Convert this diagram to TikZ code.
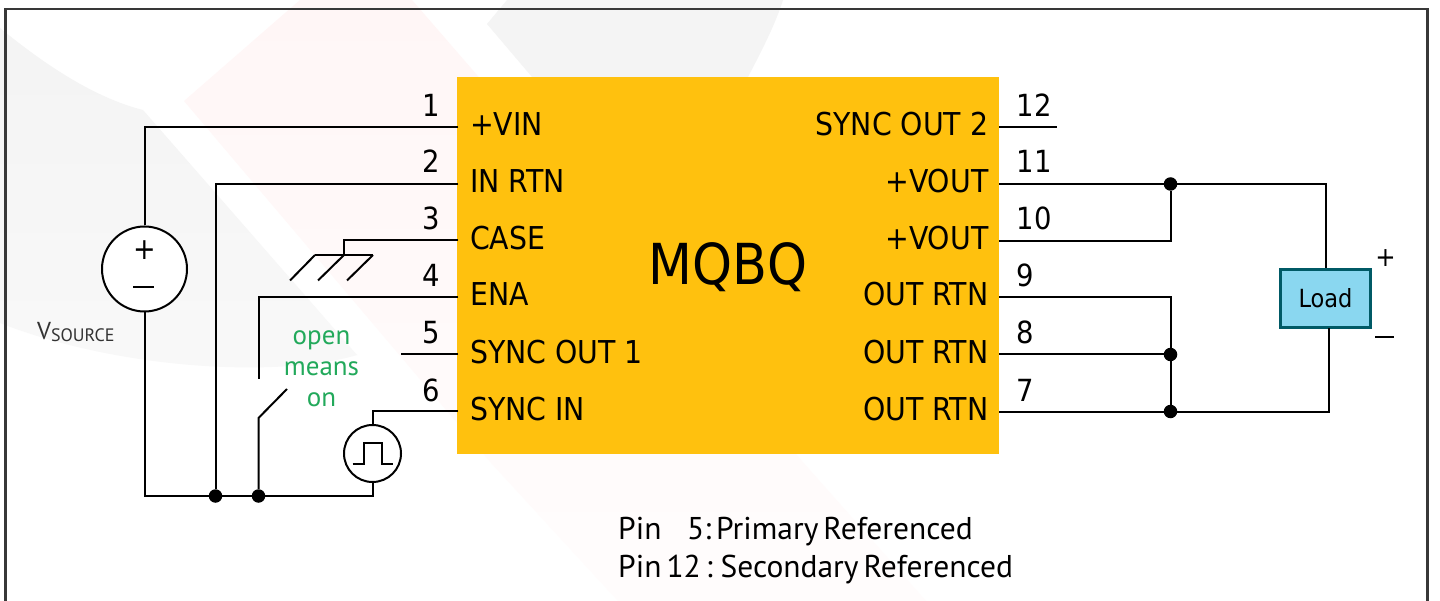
\documentclass[tikz,border=0pt]{standalone}
\usepackage{fontspec}
\setmainfont{DejaVu Sans Condensed}
\newfontfamily\notefont{PT Sans}
\newcommand{\tightwords}{\spaceskip=0.16em\relax}
\definecolor{chipcol}{HTML}{FFC10E}
\definecolor{loadfill}{HTML}{8AD7F0}
\definecolor{loaddraw}{HTML}{005A66}
\definecolor{greentext}{HTML}{22A95B}
\begin{document}
\begin{tikzpicture}[x=1pt,y=-1pt,
  wire/.style={line width=2pt,black,line cap=butt,line join=miter},
  dot/.style={circle,fill=black,inner sep=0pt,minimum size=13.5pt},
  source/.style={circle,draw=black,line width=2pt,fill=white,inner sep=0pt},
  pinno/.style={font=\fontsize{30.5}{32}\selectfont,anchor=base,inner sep=0pt},
  pinname/.style={font=\fontsize{31.5}{32}\selectfont,inner sep=0pt},
  note/.style={font=\notefont\fontsize{31.5}{32}\selectfont,inner sep=0pt,anchor=base west,text=black}]
\useasboundingbox (0,0) rectangle (1440,601);
\fill[white] (0,0) rectangle (1440,601);
% faint background
\shade[top color=black!4.5,bottom color=black!2.5] (0,28) .. controls (45,65) and (95,98) .. (143,110) -- (303,293) -- (357,355) .. controls (280,378) and (120,370) .. (0,323) -- cycle;
\shade[top color=red!3.5,bottom color=red!1] (184,101) -- (300,0) -- (412,0) -- (477,75) -- (802,461) -- (926,601) -- (618,601) -- (491,463) -- cycle;
\fill[black!4.5] (507,0) -- (487,24) -- (532,77) -- (748,77) .. controls (762,50) and (775,25) .. (783,0) -- cycle;
% frame
\draw[line width=2.4pt,black!78] (5.5,601) -- (5.5,9) -- (1427.5,9) -- (1427.5,601);
% chip
\node[fill=chipcol,minimum width=542pt,minimum height=377pt,inner sep=0pt] (chip) at (728,265.5) {};
\node[font=\fontsize{56.5}{58}\selectfont,inner sep=0pt] (title) at (728,267) {MQBQ};
% pins
\foreach \n/\y/\t in {p1/127/+VIN,p2/184/IN RTN,p3/240.5/CASE,p4/297/ENA,p5/354/SYNC OUT 1,p6/411/SYNC IN}
  \node[pinname,anchor=base west] (\n) at (470,\y+9) {\t};
\foreach \n/\y/\t in {q12/127/SYNC OUT 2,q11/184/+VOUT,q10/240.5/+VOUT,q9/297/OUT RTN,q8/354/OUT RTN,q7/411/OUT RTN}
  \node[pinname,anchor=base east] (\n) at (988.5,\y+9) {\t};
\foreach \t/\y in {1/117,2/173,3/230,4/287,5/344,6/401}
  \node[pinno] (n\t) at (431.5,\y) {\t};
\foreach \t/\x/\y in {12/1034/117,11/1034/173,10/1034/230,9/1025/287,8/1025/344,7/1025/401}
  \node[pinno] (n\t) at (\x,\y) {\t};
% coordinates
\coordinate (L1) at (458,127);\coordinate (L2) at (458,184);\coordinate (L3) at (458,240.5);
\coordinate (L4) at (458,297);\coordinate (L5) at (458,354);\coordinate (L6) at (458,411);
\coordinate (R12) at (999,127.5);\coordinate (R11) at (999,184);\coordinate (R10) at (999,241);
\coordinate (R9) at (999,297.5);\coordinate (R8) at (999,354.5);\coordinate (R7) at (999,411.5);
% sources
\node[source,minimum size=85pt] (vs) at (144.5,269) {};
\node[font=\fontsize{30}{30}\selectfont,inner sep=0pt] (vsplus) at (144.5,250) {+};
\draw[wire] (133,287) -- (154,287);
\node[source,minimum size=57pt] (pulse) at (372.5,453.5) {};
\draw[wire] (352.5,464) -- (364,464) -- (364,443) -- (382,443) -- (382,464) -- (393,464);
\node[font=\notefont\fontsize{24.5}{28}\selectfont,text=black!80,anchor=base west,inner sep=0pt] (vsrc) at (37,340) {V\raisebox{-1.5pt}{\fontsize{18}{20}\selectfont SOURCE}};
% junctions
\node[dot] (j1) at (215.5,496) {};
\node[dot] (j2) at (258.5,496) {};
\node[dot] (j3) at (1170.5,184) {};
\node[dot] (j4) at (1170.5,354.5) {};
\node[dot] (j5) at (1170.5,411.5) {};
% left wires
\draw[wire] (L1) -| (vs.north);
\draw[wire] (vs.south) |- (j1) -- (j2) -| (pulse.south);
\draw[wire] (L2) -| (j1);
\draw[wire] (L3) -- (344,240.5) -- (344,255);
\draw[wire] (315,255) -- (373,255);
\draw[wire] (315,255) -- (290,280.5);
\draw[wire] (344,255) -- (318,280.5);
\draw[wire] (373,255) -- (347,280.5);
\draw[wire] (L4) -- (258.5,297) -- (258.5,379);
\draw[wire] (j2) -- (258.5,418) -- (287,389);
\draw[wire] (L5) -- (401,354);
\draw[wire] (L6) -- (372.5,411) -- (pulse.north);
\node[font=\notefont\fontsize{27}{31}\selectfont,text=greentext,align=center,inner sep=0pt] (open) at (321.5,369) {open\\means\\on};
% right wires
\draw[wire] (R12) -- (1057,127.5);
\node[draw=loaddraw,fill=loadfill,line width=2.4pt,minimum width=90pt,minimum height=58pt,inner sep=0pt,font=\fontsize{25}{26}\selectfont] (load) at (1325.5,298.5) {Load};
\draw[wire] (R11) -- (j3) -- (1325.5,184) -- (load.north);
\draw[wire] (R10) -- (1170.5,241) -- (j3);
\draw[wire] (R9) -- (1170.5,297.5) -- (j5);
\draw[wire] (R8) -- (j4);
\draw[wire] (R7) -- (j5) -- (1329,411.5) -- (1329,328);
\node[font=\fontsize{27}{27}\selectfont,inner sep=0pt] (lplus) at (1385.5,258) {+};
\draw[wire] (1375,337) -- (1394,337);
% note
\node[note] (t1) at (618,539) {Pin};
\node[note] (t2) at (687,539) {5:};
\node[note] (t3) at (716,539) {\tightwords Primary Referenced};
\node[note] (t4) at (618,577) {\tightwords Pin 12 : Secondary Referenced};
\end{tikzpicture}
\end{document}
